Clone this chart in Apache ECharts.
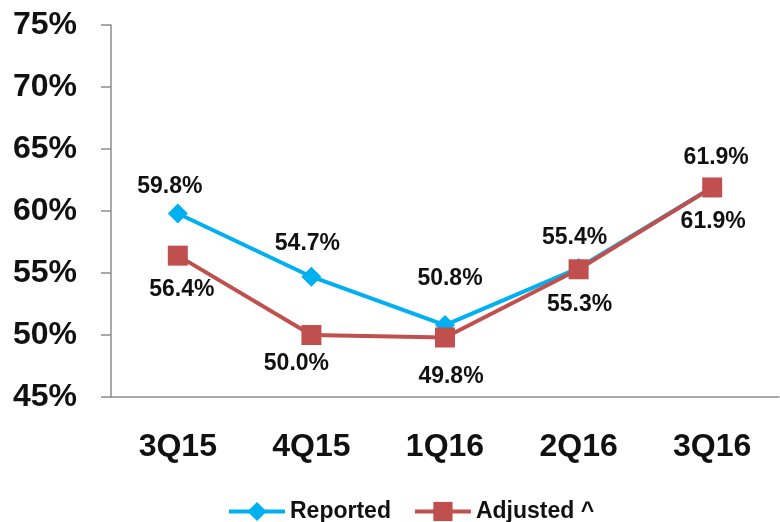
<!DOCTYPE html>
<html>
<head>
<meta charset="utf-8">
<script src="https://cdn.jsdelivr.net/npm/echarts@6/dist/echarts.min.js"></script>
<style>
  html, body { margin: 0; padding: 0; background: #fff; }
  #chart { width: 780px; height: 522px; }
</style>
</head>
<body>
<div id="chart"></div>
<script>
// data
const quarters = ['3Q15', '4Q15', '1Q16', '2Q16', '3Q16']
const reported = [59.8, 54.7, 50.8, 55.4, 61.9]
const adjusted = [56.4, 50.0, 49.8, 55.3, 61.9]

// label nudges (px from the point), to place them like the original
const reportedLabelShift = [[-8, -27], [-4, -33], [5, -46], [-4, -30], [4, -30]]
const adjustedLabelShift = [[4, 34], [-15, 29], [6, 39], [1, 35], [1, 34]]

const font = '"Liberation Sans", Arial, sans-serif'
const axisColor = '#8c8c8c'

const chart = echarts.init(document.getElementById('chart'))

const withLabels = (values, shifts) =>
  values.map((v, i) => ({
    value: v,
    label: { offset: shifts[i] },
  }))

const labelStyle = {
  show: true,
  position: 'inside',
  fontFamily: font,
  fontWeight: 'bold',
  fontSize: 23,
  color: '#111',
  formatter: (p) => p.value.toFixed(1) + '%',
}

chart.setOption({
  animation: false,
  backgroundColor: '#fff',
  grid: {
    left: 111,
    right: 1,
    top: 25,
    bottom: 125,
  },
  legend: {
    left: 222,
    top: 495,
    itemWidth: 56,
    itemHeight: 24,
    itemGap: 22,
    lineStyle: { width: 4 },
    textStyle: {
      fontFamily: font,
      fontWeight: 'bold',
      fontSize: 23,
      color: '#111',
    },
    data: ['Reported', 'Adjusted ^'],
  },
  xAxis: {
    type: 'category',
    data: quarters,
    boundaryGap: true,
    axisLine: { lineStyle: { color: axisColor, width: 1.5 } },
    axisTick: { alignWithLabel: true, length: 7, lineStyle: { color: axisColor, width: 1.5 } },
    axisLabel: {
      margin: 34,
      fontFamily: font,
      fontWeight: 'bold',
      fontSize: 32,
      color: '#111',
    },
  },
  yAxis: {
    type: 'value',
    min: 45,
    max: 75,
    interval: 5,
    splitLine: { show: false },
    axisLine: { show: true, lineStyle: { color: axisColor, width: 1.5 } },
    axisTick: { show: true, length: 10, lineStyle: { color: axisColor, width: 1.5 } },
    axisLabel: {
      margin: 34,
      formatter: '{value}%',
      fontFamily: font,
      fontWeight: 'bold',
      fontSize: 32,
      color: '#111',
    },
  },
  series: [
    {
      name: 'Reported',
      type: 'line',
      data: withLabels(reported, reportedLabelShift),
      symbol: 'diamond',
      symbolSize: 20,
      lineStyle: { width: 4, color: '#00b0f0' },
      itemStyle: { color: '#00b0f0' },
      label: labelStyle,
    },
    {
      name: 'Adjusted ^',
      type: 'line',
      data: withLabels(adjusted, adjustedLabelShift),
      symbol: 'rect',
      symbolSize: 20,
      lineStyle: { width: 4, color: '#c0504d' },
      itemStyle: { color: '#c0504d' },
      label: labelStyle,
    },
  ],
})
</script>
</body>
</html>
